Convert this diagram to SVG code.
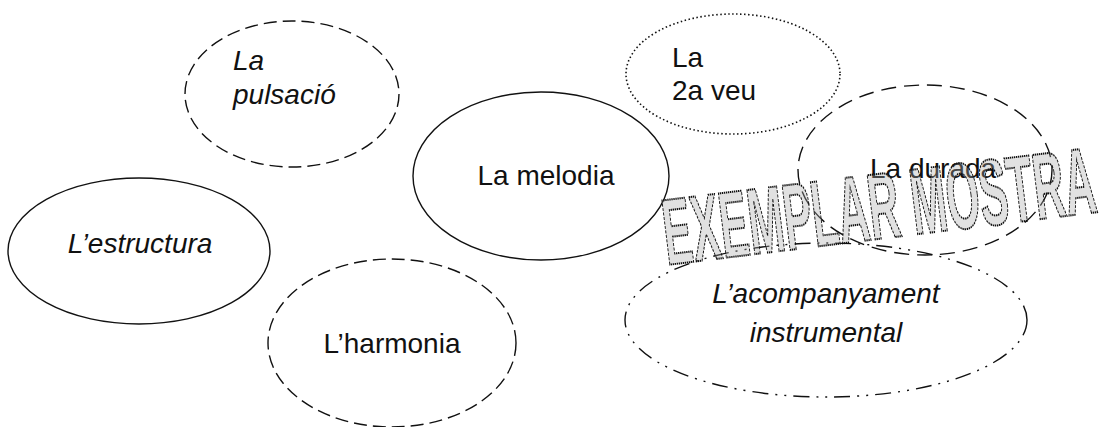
<svg xmlns="http://www.w3.org/2000/svg" width="1108" height="427" viewBox="0 0 1108 427">
<style>
.e{fill:none;stroke:#111;stroke-width:1.4}
.solid{}
.dash{stroke-dasharray:13 6}
.ldash{stroke-dasharray:15 8}
.dot{stroke-dasharray:1.5 2.5;stroke-width:1.6}
.dd{stroke-dasharray:16 7 2 7 2 7}
.t{font-family:"Liberation Sans",Arial,sans-serif;font-size:28px;fill:#111}
.i{font-style:italic}
.m{text-anchor:middle}
.stamp{font-family:"Liberation Sans",Arial,sans-serif;font-weight:bold;font-size:94px;fill:#aaa;fill-opacity:0.35;stroke:#111;stroke-width:2;stroke-dasharray:3 1.5}
</style>
<rect width="1108" height="427" fill="#fff"/>
<g id="connectors"/>
<g id="pulsacio">
<ellipse class="e dash" cx="292" cy="94" rx="107" ry="73"/>
<text class="t i" x="233" y="70">La</text>
<text class="t i" x="233" y="104">pulsació</text>
</g>
<g id="melodia">
<ellipse class="e solid" cx="541" cy="176" rx="128" ry="84"/>
<text class="t m" x="546" y="185">La melodia</text>
</g>
<g id="veu2">
<ellipse class="e dot" cx="733" cy="74" rx="107" ry="60"/>
<text class="t" x="672" y="67">La</text>
<text class="t" x="672" y="100">2a veu</text>
</g>
<g id="durada">
<ellipse class="e ldash" cx="925" cy="170" rx="127" ry="85"/>
<text class="t" x="870" y="178">La durada</text>
</g>
<g id="estructura">
<ellipse class="e solid" cx="139" cy="251" rx="131" ry="73"/>
<text class="t i m" x="140" y="253">L’estructura</text>
</g>
<g id="harmonia">
<ellipse class="e dash" cx="392" cy="343" rx="124" ry="84"/>
<text class="t m" x="392" y="353">L’harmonia</text>
</g>
<g id="acompanyament">
<ellipse class="e dd" cx="826" cy="320" rx="201" ry="77"/>
<text class="t i m" x="826" y="303">L’acompanyament</text>
<text class="t i m" x="826" y="342">instrumental</text>
</g>
<g id="stamp">
<text class="stamp" transform="translate(667,265) rotate(-7) scale(0.455,1)">EXEMPLAR MOSTRA</text>
</g>
</svg>
